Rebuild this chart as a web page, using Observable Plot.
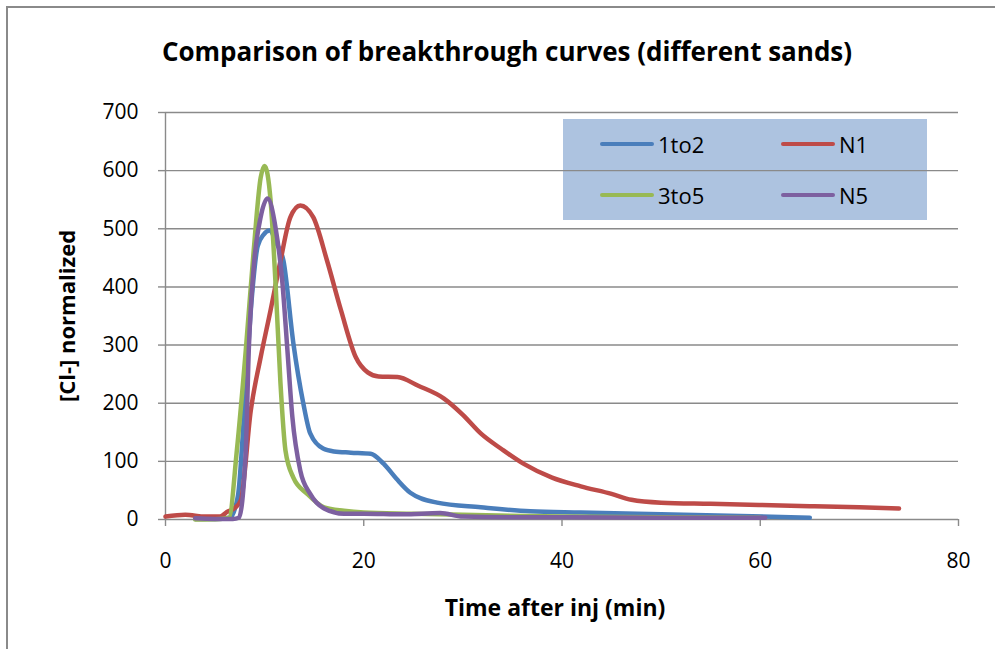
<!DOCTYPE html>
<html>
<head>
<meta charset="utf-8">
<script src="https://cdn.jsdelivr.net/npm/d3@7"></script>
<script src="https://cdn.jsdelivr.net/npm/@observablehq/plot@0.6"></script>
<style>
  html, body { margin: 0; padding: 0; background: #fff; }
  #wrap { position: relative; width: 995px; height: 649px; overflow: hidden; font-family: "Open Sans", sans-serif; }
  #frame { position: absolute; left: 6px; top: 6px; width: 1100px; height: 800px; border-left: 2px solid #8a8a8a; border-top: 2px solid #8a8a8a; }
  #legend { position: absolute; left: 563px; top: 119px; width: 364px; height: 101px; background: #adc3e0; }
  #chart { position: absolute; left: 0; top: 0; }
  .item { position: absolute; font-size: 22px; color: #000; display: flex; align-items: center; }
  .item span.sw { display: inline-block; width: 54px; height: 4px; border-radius: 2px; margin-right: 4px; }
  .lbl { position: absolute; font-weight: bold; color: #000; white-space: nowrap; transform: translate(-50%, -50%); line-height: 1.362; }
</style>
</head>
<body>
<div id="wrap">
  <div id="frame"></div>
  <div id="legend"></div>
  <div id="chart"></div>
  <div id="title" class="lbl" style="left:507px; top:52px; font-size:26px;"></div>
  <div id="xlabel" class="lbl" style="left:555px; top:608px; font-size:23px;"></div>
  <div id="ylabel" class="lbl" style="left:67px; top:316px; font-size:22px; transform: translate(-50%, -50%) rotate(-90deg);"></div>
</div>
<script>
const seriesNames = ["1to2", "N1", "3to5", "N5"];
const seriesColors = ["#4a7ebb", "#be4b48", "#98b954", "#7d60a0"];

const t1to2 = [3, 5, 6.5, 7.3, 8, 8.7, 9.3, 9.9, 10.5, 11.2, 11.9, 12.9, 13.9, 14.6, 15.9, 17, 18.7, 20.7, 22, 23.3, 24.7, 27.4, 31.8, 36.8, 41.9, 50, 58, 65];
const v1to2 = [1, 1, 3, 40, 200, 380, 470, 490, 497, 475, 445, 303, 200, 148, 122, 117, 115, 113, 96, 70, 46, 29, 21, 14, 12, 9, 6, 3];

const tN1 = [0, 2, 4, 5.5, 6.2, 7, 7.6, 8.6, 9.6, 10.6, 11.6, 12.6, 13.6, 14.9, 16.3, 17.7, 19.2, 20.4, 21.5, 23.4, 25.5, 28.1, 30, 31.8, 34, 36.1, 39, 41.9, 45, 47, 50, 55, 60, 65, 70, 74];
const vN1 = [5, 8, 5, 5, 13, 20, 33, 187, 279, 360, 445, 520, 540, 520, 445, 360, 279, 253, 246, 245, 230, 208, 180, 148, 120, 96, 72, 57, 44, 34, 29, 27, 25, 23, 21, 19];

const t3to5 = [3, 5.5, 6.4, 7.2, 8.1, 8.9, 9.6, 10, 10.6, 11.1, 11.6, 12.1, 12.9, 14.3, 16, 18, 20, 25, 30, 40, 50, 60];
const v3to5 = [0, 1, 3, 119, 291, 463, 588, 608, 549, 406, 234, 119, 72, 44, 21, 15, 12, 10, 8, 5, 4, 3];

const tN5 = [3, 5, 6.8, 7.4, 8.1, 8.4, 8.9, 9.6, 10.3, 11.1, 11.8, 12.3, 12.8, 13.6, 14.6, 16, 18, 20, 24, 27.7, 30, 35, 40, 50, 60.5];
const vN5 = [2, 1, 1, 3, 119, 291, 434, 520, 552, 502, 406, 291, 176, 84, 44, 19, 10, 10, 9, 11, 5, 4, 4, 3, 3];

const xTicks = [0, 20, 40, 60, 80];
const yTicks = [0, 100, 200, 300, 400, 500, 600, 700];

const titleText = "Comparison of breakthrough curves (different sands)";
const xLabel = "Time after inj (min)";
const yLabel = "[Cl-] normalized";

document.getElementById("title").textContent = titleText;
document.getElementById("xlabel").textContent = xLabel;
document.getElementById("ylabel").textContent = yLabel;

const toRows = (ts, vs, name) => ts.map((t, i) => ({t, v: vs[i], name}));
const data = {
  "1to2": toRows(t1to2, v1to2, "1to2"),
  "N1": toRows(tN1, vN1, "N1"),
  "3to5": toRows(t3to5, v3to5, "3to5"),
  "N5": toRows(tN5, vN5, "N5")
};
const drawOrder = ["1to2", "N1", "3to5", "N5"];
const colorOf = n => seriesColors[seriesNames.indexOf(n)];

const gridColor = "#8a8a8a";
const fontFam = "'Open Sans', sans-serif";

const chart = Plot.plot({
  width: 995,
  height: 649,
  marginLeft: 165,
  marginRight: 37,
  marginTop: 112,
  marginBottom: 130,
  style: {background: "transparent", fontFamily: fontFam, overflow: "visible"},
  x: {domain: [0, 80]},
  y: {domain: [0, 700]},
  marks: [
    Plot.ruleY(yTicks.filter(d => d > 0), {stroke: gridColor, strokeWidth: 1.4}),
    Plot.ruleY([0], {stroke: gridColor, strokeWidth: 1.4}),
    Plot.ruleX([0], {stroke: gridColor, strokeWidth: 1.4}),
    Plot.axisY({ticks: yTicks, tickSize: 7, tickPadding: 20, fontSize: 21, stroke: gridColor, strokeWidth: 1.4, fill: "#000", label: null}),
    Plot.axisX({ticks: xTicks, tickSize: 7, tickPadding: 27, fontSize: 21, stroke: gridColor, strokeWidth: 1.4, fill: "#000", label: null}),
    ...drawOrder.map(n => Plot.line(data[n], {x: "t", y: "v", stroke: colorOf(n), strokeWidth: 4.5, curve: "monotone-x", strokeLinecap: "round", strokeLinejoin: "round"}))
  ]
});
document.getElementById("chart").appendChild(chart);

// legend
const legend = document.getElementById("legend");
const legendPos = [[37, 25], [218, 25], [37, 76], [218, 76]];
seriesNames.forEach((n, i) => {
  const div = document.createElement("div");
  div.className = "item";
  div.style.left = legendPos[i][0] + "px";
  div.style.top = (legendPos[i][1] - 15) + "px";
  div.style.height = "30px";
  div.innerHTML = `<span class="sw" style="background:${seriesColors[i]}"></span><span>${n}</span>`;
  legend.appendChild(div);
});
</script>
</body>
</html>
